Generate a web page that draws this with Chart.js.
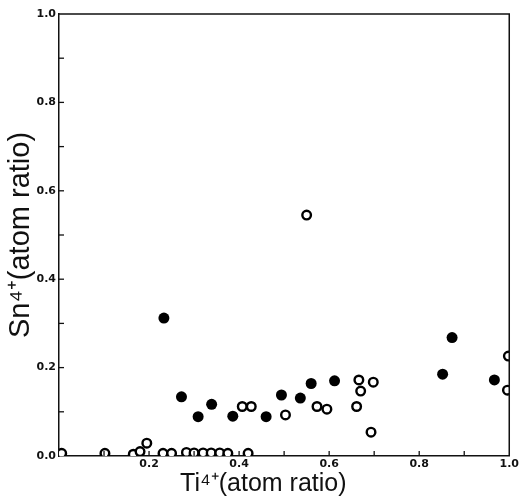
<!DOCTYPE html>
<html>
<head>
<meta charset="utf-8">
<script src="https://cdn.jsdelivr.net/npm/chart.js@4"></script>
<style>
  html, body { margin: 0; padding: 0; background: #fff; }
  #wrap { width: 521px; height: 499px; position: relative; }
</style>
</head>
<body>
<div id="wrap"><canvas id="chart" width="521" height="499"></canvas></div>
<script>
  // Sn4+ vs Ti4+ atom ratio
  var filledX = [0.233, 0.272, 0.309, 0.339, 0.386, 0.460, 0.494, 0.536, 0.560, 0.612, 0.852, 0.873, 0.967];
  var filledY = [0.312, 0.134, 0.089, 0.117, 0.090, 0.089, 0.138, 0.131, 0.164, 0.170, 0.185, 0.268, 0.172];

  var openX = [0.006, 0.102, 0.165, 0.180, 0.195, 0.231, 0.250, 0.283, 0.300, 0.320, 0.338, 0.357, 0.375, 0.420,
               0.407, 0.427, 0.503, 0.550, 0.573, 0.595, 0.661, 0.666, 0.670, 0.693, 0.698, 0.996, 0.998];
  var openY = [0.006, 0.006, 0.004, 0.010, 0.029, 0.006, 0.006, 0.008, 0.007, 0.007, 0.007, 0.007, 0.006, 0.006,
               0.112, 0.112, 0.093, 0.545, 0.112, 0.106, 0.112, 0.172, 0.147, 0.054, 0.167, 0.149, 0.226];

  var xTicks = [0.2, 0.4, 0.6, 0.8, 1.0];
  var yTicks = [0.0, 0.2, 0.4, 0.6, 0.8, 1.0];

  function toPoints(xs, ys) {
    return xs.map(function (x, i) { return { x: x, y: ys[i] }; });
  }

  function isLabelled(list, v) {
    return list.some(function (t) { return Math.abs(t - v) < 1e-6; });
  }

  // short inward ticks every 0.1, like the printed figure
  var inwardTicks = {
    id: 'inwardTicks',
    afterDraw: function (chart) {
      var ctx = chart.ctx, xs = chart.scales.x, ys = chart.scales.y, a = chart.chartArea;
      ctx.save();
      ctx.strokeStyle = '#111';
      ctx.lineWidth = 1.3;
      for (var i = 1; i < 10; i++) {
        var v = i / 10;
        var px = xs.getPixelForValue(v);
        ctx.beginPath(); ctx.moveTo(px, a.bottom); ctx.lineTo(px, a.bottom - 5); ctx.stroke();
        var py = ys.getPixelForValue(v);
        ctx.beginPath(); ctx.moveTo(a.left, py); ctx.lineTo(a.left + 5, py); ctx.stroke();
      }
      ctx.restore();
    }
  };

  var tickFont = { family: 'DejaVu Sans', size: 11, weight: 'bold' };

  new Chart(document.getElementById('chart'), {
    type: 'scatter',
    data: {
      datasets: [{
        label: 'filled',
        data: toPoints(filledX, filledY),
        pointStyle: 'circle',
        pointRadius: 5.5,
        pointBackgroundColor: '#000',
        pointBorderColor: '#000',
        pointBorderWidth: 0
      }, {
        label: 'open',
        data: toPoints(openX, openY),
        pointStyle: 'circle',
        pointRadius: 4.3,
        pointBackgroundColor: '#fff',
        pointBorderColor: '#000',
        pointBorderWidth: 2.4
      }]
    },
    options: {
      responsive: false,
      animation: false,
      layout: { padding: { top: 14, right: 11, left: 0, bottom: 0 } },
      plugins: { legend: { display: false }, tooltip: { enabled: false } },
      scales: {
        x: {
          type: 'linear', min: 0, max: 1.0,
          border: { display: true, color: '#111', width: 1.5 },
          grid: { display: false, drawTicks: false },
          afterBuildTicks: function (s) { s.ticks = xTicks.map(function (v) { return { value: v }; }); },
          afterFit: function (s) { s.height = 43; },
          ticks: {
            color: '#111', font: tickFont, padding: 2, maxRotation: 0,
            callback: function (v) { return isLabelled(xTicks, v) ? v.toFixed(1) : ''; }
          },
          title: {
            display: true, text: 'Ti⁴⁺(atom ratio)      ', color: '#111',
            font: { family: 'Liberation Sans', size: 25 }, padding: { top: -4, bottom: 0 }
          }
        },
        y: {
          type: 'linear', min: 0, max: 1.0,
          border: { display: true, color: '#111', width: 1.5 },
          grid: { display: false, drawTicks: false },
          afterBuildTicks: function (s) { s.ticks = yTicks.map(function (v) { return { value: v }; }); },
          afterFit: function (s) { s.width = 59; },
          ticks: {
            color: '#111', font: tickFont, padding: 3,
            callback: function (v) { return isLabelled(yTicks, v) ? v.toFixed(1) : ''; }
          },
          title: {
            display: true, text: 'Sn⁴⁺(atom ratio)', color: '#111',
            font: { family: 'Liberation Sans', size: 29 }, padding: { top: 4, bottom: 0 }
          }
        }
      }
    },
    plugins: [inwardTicks, {
      id: 'frame',
      afterDraw: function (chart) {
        var ctx = chart.ctx, a = chart.chartArea;
        ctx.save();
        ctx.strokeStyle = '#111';
        ctx.lineWidth = 1.5;
        ctx.beginPath();
        ctx.moveTo(a.left, a.top); ctx.lineTo(a.right, a.top); ctx.lineTo(a.right, a.bottom);
        ctx.stroke();
        ctx.restore();
      }
    }]
  });
</script>
</body>
</html>
